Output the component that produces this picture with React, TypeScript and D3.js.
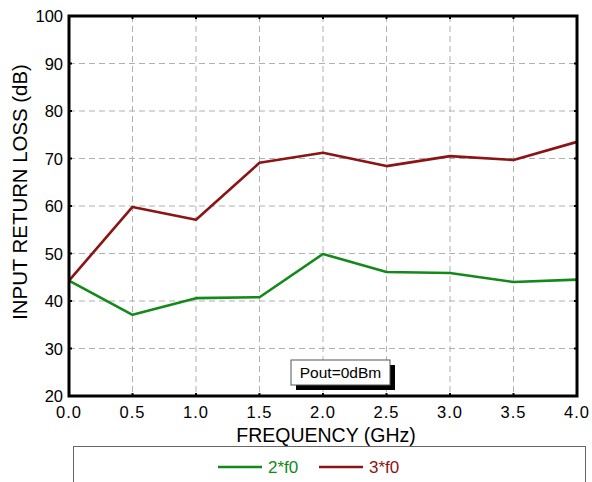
import React, { useEffect, useRef } from "react";
import * as d3 from "d3";

const freqs = [0, 0.5, 1.0, 1.5, 2.0, 2.5, 3.0, 3.5, 4.0];
const harm2 = [44.3, 37.1, 40.6, 40.8, 49.9, 46.1, 45.9, 44.0, 44.5];
const harm3 = [44.3, 59.8, 57.1, 69.1, 71.2, 68.4, 70.5, 69.7, 73.5];
const xTicks = [0, 0.5, 1.0, 1.5, 2.0, 2.5, 3.0, 3.5, 4.0];
const yTicks = [20, 30, 40, 50, 60, 70, 80, 90, 100];
const seriesNames = ["2*f0", "3*f0"];
const seriesColors = ["#13891a", "#8b1414"];

export default function App() {
  const svgRef = useRef<SVGSVGElement>(null);
  const width = 592;
  const height = 482;

  useEffect(() => {
    if (!svgRef.current) return;
    const svg = d3.select(svgRef.current);
    svg.selectAll("*").remove();

    const margin = { top: 16, right: 15, bottom: 86, left: 69 };
    const innerWidth = width - margin.left - margin.right;
    const innerHeight = height - margin.top - margin.bottom;
    const font = "Liberation Sans, Arial, sans-serif";

    svg.append("rect").attr("width", width).attr("height", height).attr("fill", "#fff");

    const g = svg.append("g").attr("transform", `translate(${margin.left},${margin.top})`);

    const x = d3.scaleLinear().domain([0, 4]).range([0, innerWidth]);
    const y = d3.scaleLinear().domain([20, 100]).range([innerHeight, 0]);

    // grid
    g.selectAll(".vgrid")
      .data(xTicks.slice(1, -1))
      .enter()
      .append("line")
      .attr("x1", (d) => x(d))
      .attr("x2", (d) => x(d))
      .attr("y1", 0)
      .attr("y2", innerHeight)
      .attr("stroke", "#b0b0b0")
      .attr("stroke-dasharray", "6,4");
    g.selectAll(".hgrid")
      .data(yTicks.slice(1, -1))
      .enter()
      .append("line")
      .attr("x1", 0)
      .attr("x2", innerWidth)
      .attr("y1", (d) => y(d))
      .attr("y2", (d) => y(d))
      .attr("stroke", "#b0b0b0")
      .attr("stroke-dasharray", "6,4");

    // tick dots on frame
    xTicks.slice(1, -1).forEach((t) => {
      [0, innerHeight].forEach((yy) => {
        g.append("line")
          .attr("x1", x(t)).attr("x2", x(t))
          .attr("y1", yy === 0 ? 0 : yy - 3).attr("y2", yy === 0 ? 3 : yy)
          .attr("stroke", "#000").attr("stroke-width", 2);
      });
    });
    yTicks.slice(1, -1).forEach((t) => {
      [0, innerWidth].forEach((xx) => {
        g.append("line")
          .attr("y1", y(t)).attr("y2", y(t))
          .attr("x1", xx === 0 ? 0 : xx - 3).attr("x2", xx === 0 ? 3 : xx)
          .attr("stroke", "#000").attr("stroke-width", 2);
      });
    });

    // lines
    const line = d3
      .line<number>()
      .x((_, i) => x(freqs[i]))
      .y((d) => y(d));

    [harm2, harm3].forEach((s, i) => {
      g.append("path")
        .datum(s)
        .attr("fill", "none")
        .attr("stroke", seriesColors[i])
        .attr("stroke-width", 2.6)
        .attr("stroke-linejoin", "round")
        .attr("d", line);
    });

    // frame
    g.append("rect")
      .attr("width", innerWidth)
      .attr("height", innerHeight)
      .attr("fill", "none")
      .attr("stroke", "#000")
      .attr("stroke-width", 3);

    // tick labels
    g.selectAll(".xl")
      .data(xTicks)
      .enter()
      .append("text")
      .attr("x", (d) => x(d))
      .attr("y", innerHeight + 22)
      .attr("text-anchor", "middle")
      .attr("font-family", font)
      .attr("font-size", 16.5)
      .attr("letter-spacing", 1)
      .text((d) => d.toFixed(1));
    g.selectAll(".yl")
      .data(yTicks)
      .enter()
      .append("text")
      .attr("x", -6)
      .attr("y", (d) => y(d) + 6)
      .attr("text-anchor", "end")
      .attr("font-family", font)
      .attr("font-size", 16.5)
      .text((d) => d);

    // axis titles
    svg.append("text")
      .attr("x", 326)
      .attr("y", 442)
      .attr("text-anchor", "middle")
      .attr("font-family", font)
      .attr("font-size", 19.5)
      .text("FREQUENCY (GHz)");
    svg.append("text")
      .attr("transform", `translate(27,192) rotate(-90)`)
      .attr("text-anchor", "middle")
      .attr("font-family", font)
      .attr("font-size", 20.4)
      .text("INPUT RETURN LOSS (dB)");

    // annotation
    const ax = 291, ay = 360, aw = 99, ah = 25;
    svg.append("rect").attr("x", ax + 5).attr("y", ay + 5).attr("width", aw).attr("height", ah).attr("fill", "#000");
    svg.append("rect").attr("x", ax).attr("y", ay).attr("width", aw).attr("height", ah)
      .attr("fill", "#fff").attr("stroke", "#555").attr("stroke-width", 1);
    svg.append("text")
      .attr("x", ax + aw / 2).attr("y", ay + 18)
      .attr("text-anchor", "middle")
      .attr("font-family", font)
      .attr("font-size", 15.5)
      .text("Pout=0dBm");

    // legend
    svg.append("rect")
      .attr("x", 73.5).attr("y", 446.5).attr("width", 512).attr("height", 50)
      .attr("fill", "#fff").attr("stroke", "#666").attr("stroke-width", 1);
    const legX = [218, 319];
    seriesNames.forEach((n, i) => {
      svg.append("line")
        .attr("x1", legX[i]).attr("x2", legX[i] + 44)
        .attr("y1", 467).attr("y2", 467)
        .attr("stroke", seriesColors[i]).attr("stroke-width", 2.6);
      svg.append("text")
        .attr("x", legX[i] + 50).attr("y", 473)
        .attr("font-family", font)
        .attr("font-size", 17)
        .attr("fill", seriesColors[i])
        .text(n);
    });
  }, []);

  return (
    <svg
      ref={svgRef}
      width={width}
      height={height}
      style={{ display: "block", position: "absolute", left: 0, top: 0 }}
    />
  );
}
